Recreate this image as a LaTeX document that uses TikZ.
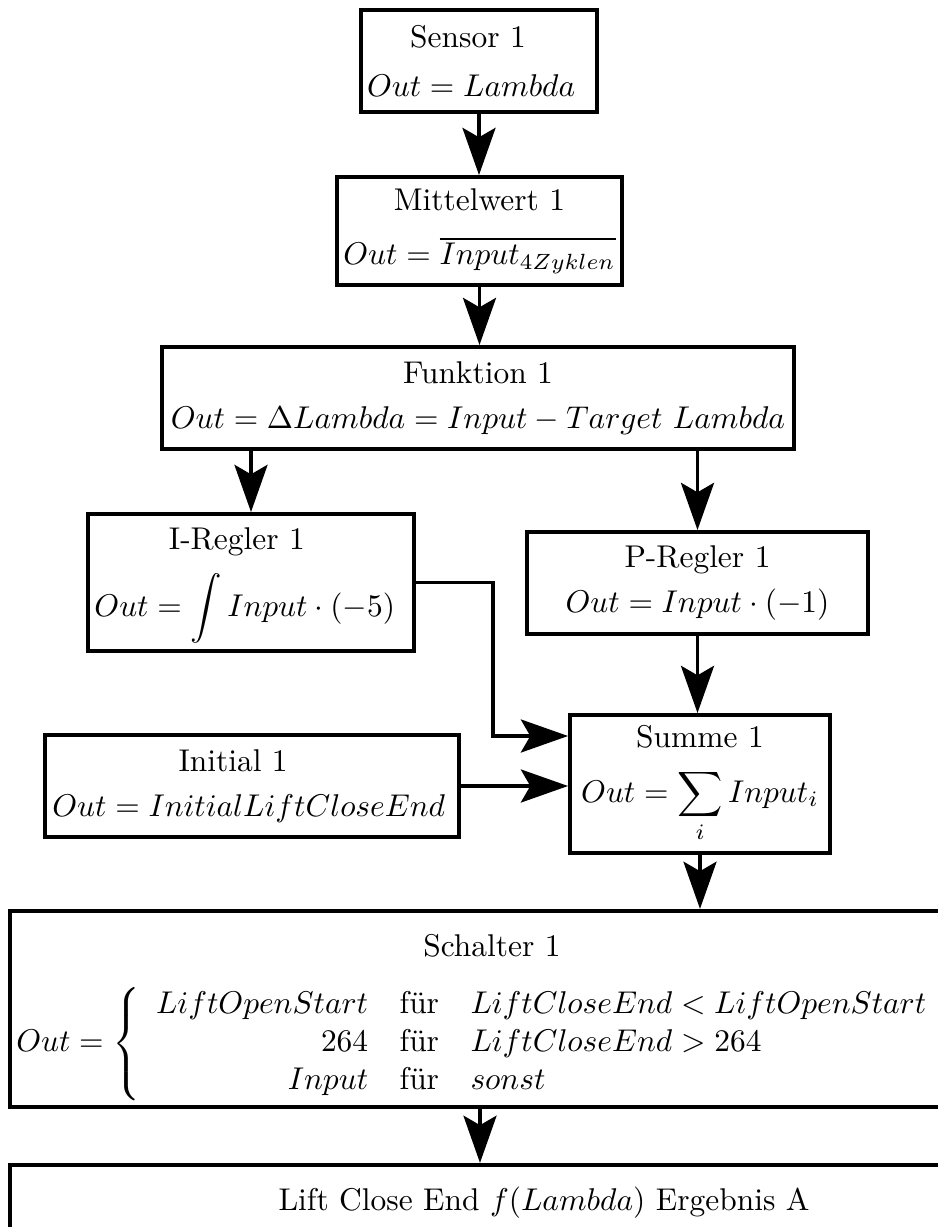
\documentclass[tikz,border=0pt]{standalone}
\usepackage{amsmath}
\usetikzlibrary{arrows.meta,calc}
\newcommand\px{0.318pt}
\begin{document}
\begin{tikzpicture}[x=\px,y=-\px,
  block/.style={draw, line width=1.25pt, align=center, inner sep=2pt, fill=white},
  wideblock/.style={block, line width=1.35pt},
  arr/.style={line width=1.15pt, -{Stealth[length=15pt,width=10.5pt,inset=3pt]}},
]
\useasboundingbox (0,0) rectangle (938,1227);
\clip (0,0) rectangle (938,1227);

% signal chain
\node[block, minimum width=232*\px, minimum height=102*\px] (sensor) at (479,61)
  {Sensor 1\hspace*{7pt}\\[3.4pt] $Out = Lambda$\hspace*{5pt}};
\node[block, minimum width=283*\px, minimum height=108*\px] (mittel) at (479.5,231)
  {Mittelwert 1\\[5.4pt] $Out = \overline{Input_{4Zyklen}}$};
\node[block, minimum width=632*\px, minimum height=102*\px] (funk) at (478,398)
  {Funktion 1\\[2.4pt] $Out = \Delta Lambda = Input - Target\ Lambda$};
\node[block, minimum width=324*\px, minimum height=137*\px] (ireg) at (251,582.5)
  {\rule{0pt}{9pt}I-Regler 1\hspace*{9pt}\\[4.6pt] $Out = \displaystyle\int Input\cdot(-5)$\hspace*{4pt}};
\node[block, minimum width=341*\px, minimum height=102*\px] (preg) at (697.5,583)
  {P-Regler 1\\[2.5pt] $Out = Input\cdot(-1)$};
\node[block, minimum width=260*\px, minimum height=138*\px] (summe) at (700,784)
  {Summe 1\\[5.3pt] $Out = \displaystyle\sum_i Input_i$};
\node[block, minimum width=414*\px, minimum height=102*\px] (init) at (252,786)
  {Initial 1\hspace*{12pt}\\[2.5pt] $Out = InitialLiftCloseEnd$\hspace*{2pt}};
\node[wideblock, text width=964*\px-4pt, minimum height=178*\px] (schalter) at (492,1009)
  {\rule{0pt}{12.6pt}Schalter 1\\[8.5pt]
   $Out = \left\{\begin{array}{rcl}
     LiftOpenStart & \text{für} & LiftCloseEnd < LiftOpenStart\\
     264 & \text{für} & LiftCloseEnd > 264\\
     Input & \text{für} & sonst
   \end{array}\right.$\hfill\null};
\node[wideblock, minimum width=1068*\px, minimum height=75*\px] (last) at (544,1202.5)
  {Lift Close End $f(Lambda)$ Ergebnis A};

% connectors
\coordinate (bend) at (493,736);
\draw[arr] (sensor.south) -- (sensor.south |- mittel.north);
\draw[arr] (mittel.south) -- (mittel.south |- funk.north);
\draw[arr] (ireg.north |- funk.south) -- (ireg.north);
\draw[arr] (preg.north |- funk.south) -- (preg.north);
\draw[arr] (preg.south) -- (preg.south |- summe.north);
\draw[arr] (ireg.east) -| (bend) -- (bend -| summe.west);
\draw[arr] (init.east) -- (init.east -| summe.west);
\draw[arr] (summe.south) -- (summe.south |- schalter.north);
\draw[arr] ([xshift=-12*\px]schalter.south) -- ([xshift=-12*\px]schalter.south |- last.north);
\end{tikzpicture}
\end{document}
